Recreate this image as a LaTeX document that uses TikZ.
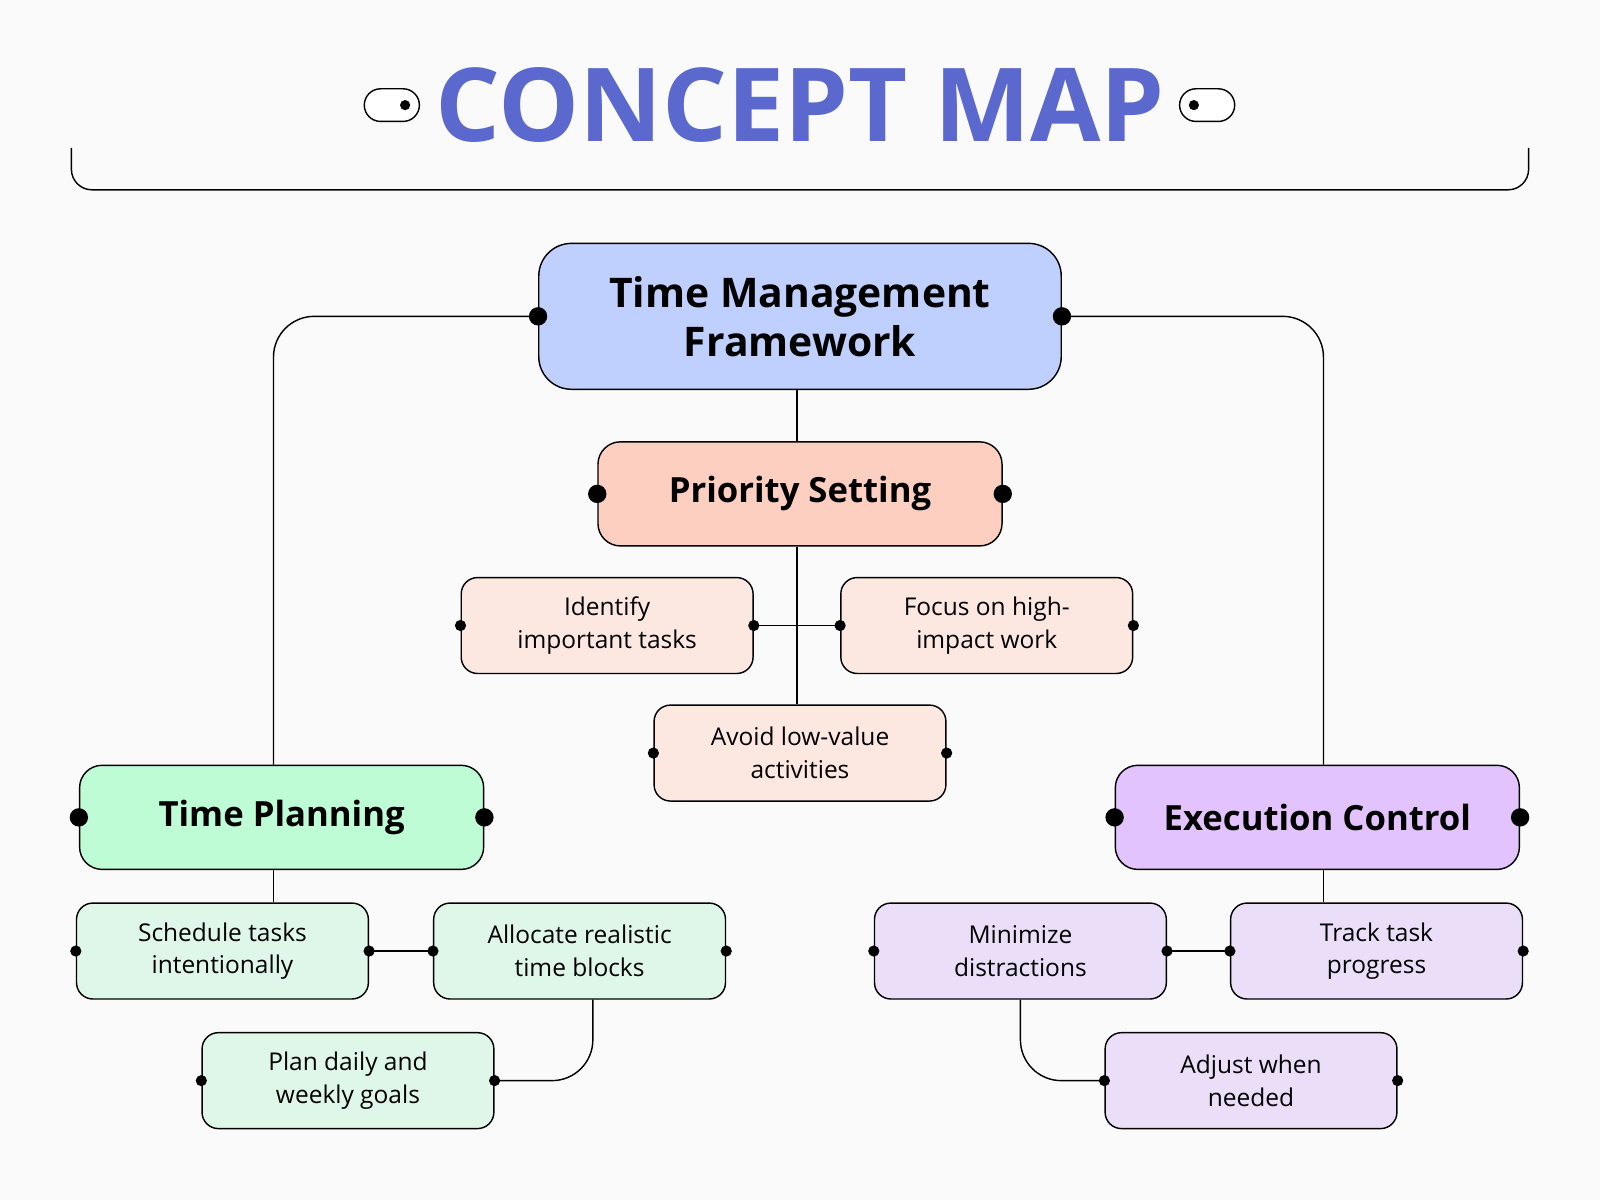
\documentclass[tikz,border=0pt]{standalone}
\usepackage{fontspec}
\setmainfont{Open Sans}
\usetikzlibrary{positioning}
\definecolor{titleblue}{HTML}{5B69CF}
\definecolor{rootfill}{HTML}{BFD0FE}
\definecolor{prifill}{HTML}{FDCFC0}
\definecolor{prisub}{HTML}{FDE7E1}
\definecolor{planfill}{HTML}{BEFCD6}
\definecolor{plansub}{HTML}{DEF7E8}
\definecolor{execfill}{HTML}{E3C3FD}
\definecolor{execsub}{HTML}{EADEF9}

\tikzset{
  box/.style={draw,line width=1.4pt,rounded corners=22pt,align=center,inner sep=0pt},
  big/.style={box,minimum width=396pt,minimum height=102pt,font=\fontsize{34}{40}\selectfont\bfseries},
  small/.style={box,rounded corners=16pt,minimum width=286pt,minimum height=94pt,font=\fontsize{24}{32}\selectfont},
  link/.style={line width=1.4pt,rounded corners=40pt},
  bigdot/.style={circle,fill=black,inner sep=0pt,minimum size=18pt},
  dot/.style={circle,fill=black,inner sep=0pt,minimum size=11pt},
}

\begin{document}
\begin{tikzpicture}[x=1pt,y=-1pt]
\fill[white!98!black] (0,0) rectangle (1568,1176);
\useasboundingbox (0,0) rectangle (1568,1176);

% header
\node[text=titleblue,font=\fontsize{100}{100}\selectfont\bfseries] (title) at (784,103) {CONCEPT MAP};
\draw[line width=1.4pt,fill=white,rounded corners=16pt] (357,87) rectangle (411,119);
\fill (397,103) circle (5pt);
\draw[line width=1.4pt,fill=white,rounded corners=16pt] (1156,87) rectangle (1210,119);
\fill (1170,103) circle (5pt);
\draw[line width=1.4pt,rounded corners=20pt] (70,145) -- (70,186) -- (1498,186) -- (1498,145);

% nodes
\node[box,fill=rootfill,minimum width=512pt,minimum height=143pt,rounded corners=32pt,
  font=\fontsize{40}{48}\selectfont\bfseries] (root) at (784,310) {Time Management\\Framework};
\node[big,fill=prifill] (prio) at (784,484) {Priority Setting};
\node[small,fill=prisub] (ident) at (595,613) {Identify\\important tasks};
\node[small,fill=prisub] (focus) at (967,613) {Focus on high-\\impact work};
\node[small,fill=prisub] (avoid) at (784,738) {Avoid low-value\\activities};
\node[big,fill=planfill] (plan) at (276,801) {Time Planning};
\node[big,fill=execfill] (exec) at (1291,801) {Execution Control};
\node[small,fill=plansub] (sched) at (218,932) {Schedule tasks\\intentionally};
\node[small,fill=plansub] (alloc) at (568,932) {Allocate realistic\\time blocks};
\node[small,fill=plansub] (goals) at (341,1059) {Plan daily and\\weekly goals};
\node[small,fill=execsub] (minim) at (1000,932) {Minimize\\distractions};
\node[small,fill=execsub] (track) at (1349,932) {Track task\\progress};
\node[small,fill=execsub] (adjust) at (1226,1059) {Adjust when\\needed};

% connectors
\draw[link] (root.west) -| ([xshift=-8pt]plan.north);
\draw[link] (root.east) -| ([xshift=6pt]exec.north);
\draw[link] ([xshift=-3pt]root.south) -- ([xshift=-3pt]prio.north);
\draw[link] ([xshift=-3pt]prio.south) -- ([xshift=-3pt]avoid.north);
\draw[link] (ident.east) -- (focus.west);
\draw[link] ([xshift=-8pt]plan.south) -- ([xshift=50pt]sched.north);
\draw[link] (sched.east) -- (alloc.west);
\draw[link] ([xshift=13pt]alloc.south) |- (goals.east);
\draw[link] ([xshift=6pt]exec.south) -- ([xshift=-52pt]track.north);
\draw[link] (minim.east) -- (track.west);
\draw[link] (minim.south) |- (adjust.west);

% dots
\foreach \n in {root,prio,plan,exec}
  \node[bigdot] at (\n.west) {} node[bigdot] at (\n.east) {};
\foreach \n in {ident,focus,avoid,sched,alloc,goals,minim,track,adjust}
  \node[dot] at (\n.west) {} node[dot] at (\n.east) {};
\end{tikzpicture}
\end{document}
